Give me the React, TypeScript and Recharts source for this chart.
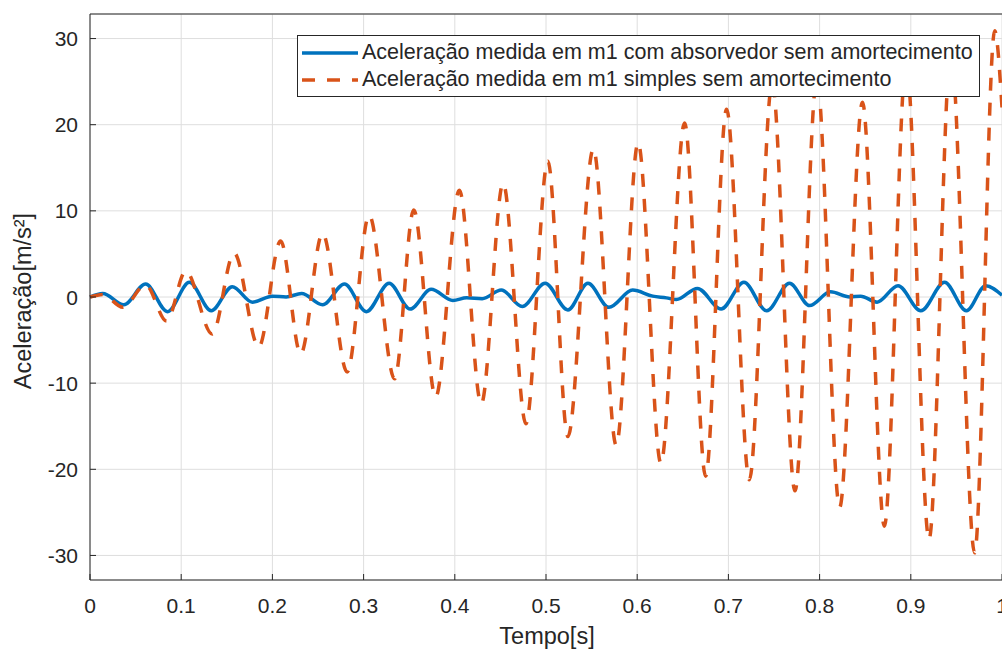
import { LineChart, Line, XAxis, YAxis, CartesianGrid, Legend, Label } from "recharts";

// time [s] and acceleration [m/s²] (extrema of each oscillation)
const absorberTime = [
  0, 0.014, 0.037, 0.061, 0.085, 0.109, 0.133, 0.156, 0.178, 0.2, 0.215, 0.232,
  0.255, 0.279, 0.303, 0.328, 0.351, 0.374, 0.398, 0.413, 0.43, 0.451, 0.474,
  0.499, 0.524, 0.546, 0.569, 0.595, 0.617, 0.632, 0.643, 0.666, 0.692, 0.717,
  0.742, 0.767, 0.789, 0.812, 0.833, 0.845, 0.863, 0.886, 0.911, 0.937, 0.961,
  0.982, 1.0,
];
const absorberAccel = [
  0, 0.4, -0.9, 1.5, -1.7, 1.7, -1.6, 1.2, -0.6, 0.1, 0.0, 0.4, -0.9, 1.5, -1.7,
  1.6, -1.4, 0.9, -0.4, -0.1, -0.2, 0.8, -1.1, 1.6, -1.5, 1.6, -1.2, 0.8, 0.1,
  -0.1, -0.3, 1.0, -1.4, 1.7, -1.6, 1.6, -1.0, 0.6, 0.0, 0.1, -0.6, 1.3, -1.6,
  1.7, -1.6, 1.3, 0.2,
];

const simpleTime = [
  0, 0.014, 0.036, 0.061, 0.084, 0.105, 0.134, 0.158, 0.185, 0.209, 0.231, 0.255,
  0.282, 0.306, 0.334, 0.355, 0.379, 0.405, 0.429, 0.453, 0.478, 0.502, 0.524,
  0.552, 0.577, 0.601, 0.626, 0.652, 0.675, 0.698, 0.723, 0.748, 0.773, 0.797,
  0.822, 0.847, 0.871, 0.895, 0.92, 0.944, 0.97, 0.992, 1.0,
];
const simpleAccel = [
  0, 0.3, -1.2, 1.4, -2.8, 3.0, -4.3, 5.1, -5.8, 6.5, -6.6, 7.4, -8.7, 9.5, -9.5,
  10.1, -11.6, 12.4, -12.4, 13.2, -14.7, 15.8, -16.2, 17.2, -17.2, 17.9, -19.3,
  20.2, -20.8, 21.8, -21.2, 24.8, -22.5, 25.3, -24.4, 22.6, -26.6, 27.2, -28.1,
  28.5, -29.7, 30.9, 22,
];

const timeTicks = [0, 0.1, 0.2, 0.3, 0.4, 0.5, 0.6, 0.7, 0.8, 0.9, 1];
const accelTicks = [-30, -20, -10, 0, 10, 20, 30];

const absorberName = "Aceleração medida em m1 com absorvedor sem amortecimento";
const simpleName = "Aceleração medida em m1 simples sem amortecimento";

const absorberData = absorberTime.map((t, i) => ({ t, a: absorberAccel[i] }));
const simpleData = simpleTime.map((t, i) => ({ t, a: simpleAccel[i] }));

const FONT = "'Liberation Sans', Arial, sans-serif";
const INK = "#262626";
const PLOT_TOP = 14;
const PLOT_BOTTOM = 580;
const PLOT_LEFT = 90;

const BottomTick = (props: any) => {
  const { x, payload } = props;
  return (
    <g>
      <line x1={x} x2={x} y1={PLOT_BOTTOM} y2={PLOT_BOTTOM - 6} stroke={INK} />
      <text x={x} y={613} textAnchor="middle" fontSize={21} fill={INK} fontFamily={FONT}>
        {payload.value}
      </text>
    </g>
  );
};

const TopTick = (props: any) => {
  const { x } = props;
  return <line x1={x} x2={x} y1={PLOT_TOP} y2={PLOT_TOP + 6} stroke={INK} />;
};

const LeftTick = (props: any) => {
  const { y, payload } = props;
  return (
    <g>
      <line x1={PLOT_LEFT} x2={PLOT_LEFT + 6} y1={y} y2={y} stroke={INK} />
      <text x={78} y={y + 7.5} textAnchor="end" fontSize={21} fill={INK} fontFamily={FONT}>
        {payload.value}
      </text>
    </g>
  );
};

const LegendBox = ({ payload }: any) => (
  <div
    style={{
      boxSizing: "border-box",
      width: 683,
      height: 62,
      border: `1px solid ${INK}`,
      background: "#fff",
      paddingTop: 3,
      fontFamily: FONT,
      fontSize: 21.5,
      color: INK,
    }}
  >
    {(payload || []).map((entry: any) => (
      <div key={entry.value} style={{ display: "flex", alignItems: "center", height: 27, whiteSpace: "nowrap" }}>
        <svg width={64} height={10} style={{ flex: "none" }}>
          <line
            x1={4}
            x2={60}
            y1={5}
            y2={5}
            stroke={entry.color}
            strokeWidth={3.5}
            strokeDasharray={entry.payload?.strokeDasharray}
          />
        </svg>
        <span>{entry.value}</span>
      </div>
    ))}
  </div>
);

export default function App() {
  return (
    <div style={{ position: "absolute", left: 0, top: 0, background: "#fff" }}>
      <LineChart
        width={1002}
        height={650}
        margin={{ top: 13, right: 0, bottom: 0, left: 0 }}
        style={{ fontFamily: FONT }}
      >
        <CartesianGrid stroke="#dedede" strokeWidth={1} />
        <XAxis
          type="number"
          dataKey="t"
          domain={[0, 1]}
          ticks={timeTicks}
          interval={0}
          height={70}
          axisLine={{ stroke: INK }}
          tickLine={false}
          tick={<BottomTick />}
        >
          <Label
            content={() => (
              <text x={547} y={644} textAnchor="middle" fontSize={23.5} fill={INK} fontFamily={FONT}>
                Tempo[s]
              </text>
            )}
          />
        </XAxis>
        <XAxis
          xAxisId="top"
          orientation="top"
          type="number"
          domain={[0, 1]}
          ticks={timeTicks}
          interval={0}
          height={1}
          axisLine={{ stroke: INK }}
          tickLine={false}
          tick={<TopTick />}
        />
        <YAxis
          type="number"
          domain={[-32.85, 32.85]}
          ticks={accelTicks}
          interval={0}
          width={90}
          axisLine={{ stroke: INK }}
          tickLine={false}
          tick={<LeftTick />}
        >
          <Label
            content={() => (
              <text
                x={31}
                y={301}
                transform="rotate(-90 31 301)"
                textAnchor="middle"
                fontSize={23.5}
                fill={INK}
                fontFamily={FONT}
              >
                Aceleração[m/s²]
              </text>
            )}
          />
        </YAxis>
        <Legend
          layout="horizontal"
          verticalAlign="middle"
          align="center"
          content={<LegendBox />}
          wrapperStyle={{ left: 297, top: 35, width: 683, height: 62 }}
        />
        <Line
          data={absorberData}
          dataKey="a"
          name={absorberName}
          type="monotone"
          stroke="#0072BD"
          strokeWidth={3.5}
          dot={false}
          activeDot={false}
          isAnimationActive={false}
        />
        <Line
          data={simpleData}
          dataKey="a"
          name={simpleName}
          type="monotone"
          stroke="#D95319"
          strokeWidth={3.5}
          strokeDasharray="13 12"
          dot={false}
          activeDot={false}
          isAnimationActive={false}
        />
      </LineChart>
    </div>
  );
}
